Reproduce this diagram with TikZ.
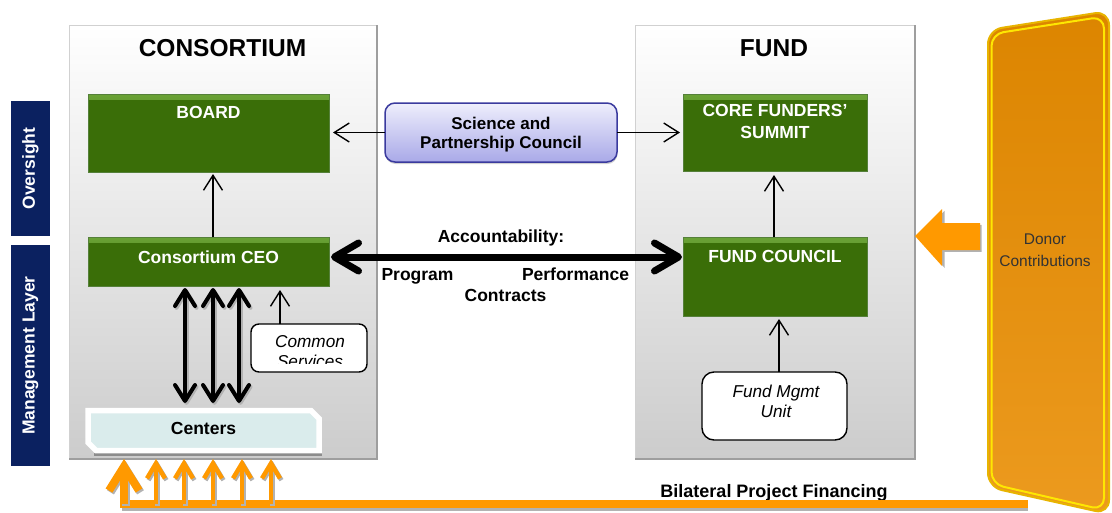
\documentclass[tikz,border=0pt]{standalone}
\usepackage{fontspec}
\setmainfont{Liberation Sans}
\usetikzlibrary{arrows.meta,shadows}

\definecolor{boxgreen}{HTML}{3A6E08}
\definecolor{greenlite}{HTML}{6AA236}
\definecolor{greenedge}{HTML}{55803A}
\definecolor{navyband}{HTML}{0B2160}
\definecolor{lavtop}{HTML}{EEEEFC}
\definecolor{lavbot}{HTML}{A9A9E8}
\definecolor{lavedge}{HTML}{3A3A9E}
\definecolor{orangearrow}{HTML}{FF9900}
\definecolor{donortop}{HTML}{DC8500}
\definecolor{donorbot}{HTML}{EC9A1E}
\definecolor{donorrim}{HTML}{E8B400}
\definecolor{centerfill}{HTML}{DAECEC}

\begin{document}
\begin{tikzpicture}[x=1pt,y=-1pt,
  every node/.style={inner sep=0pt,outer sep=0pt},
  panel/.style={draw=black!18,line width=1pt,top color=white,bottom color=black!20},
  paneledge/.style={draw=black!38,line width=1.5pt},
  band/.style={fill=navyband,minimum width=39pt},
  bandtext/.style={rotate=90,text=white,font=\fontsize{17.5}{20}\selectfont\bfseries},
  greenbox/.style={fill=boxgreen,draw=greenedge,line width=1pt,
    path picture={\shade[top color=greenlite,bottom color=boxgreen]
      (path picture bounding box.north west) rectangle
      ([yshift=-5pt]path picture bounding box.north east);}},
  whitebox/.style={fill=white,draw=black,line width=1.4pt},
  title/.style={font=\fontsize{24.5}{28}\selectfont\bfseries},
  bold/.style={font=\fontsize{17.5}{20}\selectfont\bfseries,align=center},
  greenlbl/.style={bold,text=white},
  ital/.style={font=\fontsize{17.2}{20}\selectfont\itshape,align=center},
  thinarrow/.style={line width=1.4pt,-{Straight Barb[length=15pt,width=19pt]}},
  acc/.style={line width=7pt,{Straight Barb[round,length=24pt,width=28pt]}-{Straight Barb[round,length=24pt,width=28pt]}},
  dbl/.style={line width=4pt,{Straight Barb[round,length=16pt,width=20pt]}-{Straight Barb[round,length=16pt,width=20pt]}},
  orsmall/.style={orangearrow,line width=4.5pt,-{Straight Barb[length=15pt,width=18pt]}},
  orbig/.style={orangearrow,line width=8pt,-{Straight Barb[length=24pt,width=30pt]}},
  grayshadow/.style={black!30,transform canvas={shift={(1.5pt,-1.8pt)}}}
]
\useasboundingbox (0,0) rectangle (1112,512);

% the two columns
\node[panel,minimum width=308pt,minimum height=434pt] (cons) at (223,242) {};
\draw[paneledge] (cons.north east) -- (cons.south east) -- (cons.south west);
\node[panel,minimum width=280pt,minimum height=434pt] (fund) at (775,242) {};
\draw[paneledge] (fund.north east) -- (fund.south east) -- (fund.south west);
\node[title] (constitle) at (222.5,48) {CONSORTIUM};
\node[title] (fundtitle) at (774,48) {FUND};

% layer bands on the left
\node[band,minimum height=135pt] (oversight) at (30.5,168.5) {};
\node[bandtext] (oversightlbl) at (oversight.center) {Oversight};
\node[band,minimum height=221pt] (mgmt) at (30.5,355.5) {};
\node[bandtext] (mgmtlbl) at (mgmt.center) {Management Layer};

% governing bodies
\node[greenbox,minimum width=241pt,minimum height=78pt] (board) at (208.5,133) {};
\node[greenlbl,anchor=base] (boardlbl) at (208.5,118) {BOARD};
\node[greenbox,minimum width=241pt,minimum height=49pt] (ceo) at (208.5,261.5) {};
\node[greenlbl,anchor=base] (ceolbl) at (208.5,263) {Consortium CEO};
\node[greenbox,minimum width=184pt,minimum height=77pt] (core) at (775,132.5) {};
\node[greenlbl,font=\fontsize{17.5}{22}\selectfont\bfseries] (corelbl) at (775,121.8) {CORE FUNDERS’\\SUMMIT};
\node[greenbox,minimum width=184pt,minimum height=79pt] (council) at (775,276.5) {};
\node[greenlbl,anchor=base] (councillbl) at (775,262) {FUND COUNCIL};

% science and partnership council
\node[top color=lavtop,bottom color=lavbot,draw=lavedge,line width=1.5pt,rounded corners=10pt,
  minimum width=232pt,minimum height=59pt,
  drop shadow={shadow xshift=0.5pt,shadow yshift=-2pt,opacity=0.35}] (spc) at (501,132.5) {};
\node[bold,font=\fontsize{17}{19}\selectfont\bfseries] (spclbl) at (501,135) {Science and\\Partnership Council};

% support units
\node[whitebox,rounded corners=12pt,minimum width=145pt,minimum height=68pt] (fmu) at (774.5,406) {};
\node[ital] (fmulbl) at (776,401.7) {Fund Mgmt\\Unit};
\node[whitebox,rounded corners=8pt,minimum width=116pt,minimum height=48pt] (common) at (309,348) {};
\begin{scope}
  \clip (252,326) rectangle (366,363.5);
  \node[ital] (commonlbl) at (310,351.7) {Common\\Services};
\end{scope}

% centers: a bevelled tab with a white rim
\draw[black!45,line width=3pt] (94,454) -- (322,454);
\filldraw[fill=centerfill,draw=white,line width=5.5pt,line join=miter]
  (88,410.5) -- (311,410.5) -- (319,418.5) -- (319,450.5) -- (96,450.5) -- (88,442.5) -- cycle;
\node[minimum width=231pt,minimum height=40pt] (centers) at (203.5,430.5) {};
\node[bold] (centerslbl) at (203.5,428) {Centers};

% reporting lines
\draw[thinarrow,shorten >=4pt] (spc.west) -- (spc.west -| board.east);
\draw[thinarrow,shorten >=3pt] (spc.east) -- (spc.east -| core.west);
\draw[thinarrow,shorten >=2pt] (ceo.north -| 213,0) -- (board.south -| 213,0);
\draw[thinarrow,shorten >=4pt] (council.north -| 774,0) -- (core.south -| 774,0);
\draw[thinarrow,shorten >=3pt] (fmu.north -| 779,0) -- (council.south -| 779,0);
\draw[thinarrow,shorten >=4pt] (common.north -| 280,0) -- (ceo.south -| 280,0);

% accountability link
\coordinate (accy) at (500,257);
\draw[acc,shorten <=2pt,shorten >=1pt] (ceo.east |- accy) -- (council.west |- accy);
\node[bold,anchor=base] (acclbl) at (501,242) {Accountability:};
\node[bold,anchor=base] (proglbl) at (417.5,280) {Program};
\node[bold,anchor=base] (perflbl) at (575.5,280) {Performance};
\node[bold,anchor=base] (contrlbl) at (505.5,301) {Contracts};

% CEO to centers
\foreach \x in {185,213,239}{
  \draw[dbl,grayshadow,shorten <=2pt,shorten >=7.5pt] (ceo.south -| \x,0) -- (centers.north -| \x,0);
  \draw[dbl,shorten <=2pt,shorten >=7.5pt] (ceo.south -| \x,0) -- (centers.north -| \x,0);
}

% donors
\shade[top color=donortop,bottom color=donorbot,draw=donorrim,line width=2pt,rounded corners=14pt]
  (988,30) -- (1109,11) -- (1109,514) -- (988,487) -- cycle;
\draw[yellow!90!orange,line width=2pt,rounded corners=12pt]
  (991.5,34) -- (1104,16.5) -- (1104,510) -- (991.5,484) -- cycle;
\node[font=\fontsize{15.5}{22}\selectfont,text=black!80,align=center] (donorlbl) at (1045,250.6) {Donor\\Contributions};
\fill[black!30] (917.5,237.8) -- (944.5,210.8) -- (944.5,224.8) -- (981.5,224.8) -- (981.5,251.8)
  -- (944.5,251.8) -- (944.5,267.8) -- cycle;
\fill[orangearrow] (915,236) -- (942,209) -- (942,223) -- (980,223) -- (980,250) -- (942,250) -- (942,266) -- cycle;

% bilateral financing
\node[bold,anchor=base,font=\fontsize{18}{20}\selectfont\bfseries] (bilatlbl) at (774,497) {Bilateral Project Financing};
\coordinate (barstart) at (120,504);
\coordinate (barend) at (1028,504);
\draw[black!30,line width=3pt] (122,509.5) -- (1028,509.5);
\draw[orangearrow,line width=8pt] (barstart) -- (barend);
\draw[orbig,grayshadow] (barstart -| 124,0) -- (cons.south -| 124,0);
\draw[orbig] (barstart -| 124,0) -- (cons.south -| 124,0);
\foreach \x in {156,184,213,242,271}{
  \draw[orsmall,grayshadow] (barstart -| \x,0) -- (cons.south -| \x,0);
  \draw[orsmall] (barstart -| \x,0) -- (cons.south -| \x,0);
}
\end{tikzpicture}
\end{document}
